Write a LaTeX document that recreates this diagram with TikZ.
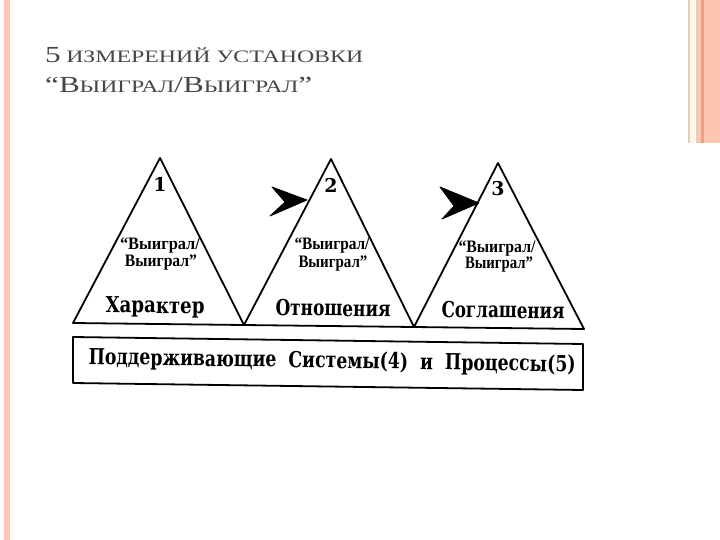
\documentclass[tikz,border=0pt]{standalone}
\usepackage{fontspec}
\setmainfont{Liberation Serif}
\newfontfamily\heavyfont{DejaVu Serif}
\usepackage{graphicx}
\definecolor{titlegray}{RGB}{70,70,70}
\definecolor{peach}{RGB}{252,198,176}
\definecolor{salmon}{RGB}{240,160,130}
\definecolor{tanline}{RGB}{228,204,188}
\definecolor{creamline}{RGB}{255,246,232}
\newcommand\wtext[2]{\resizebox{#1}{\height}{#2}}
\newcommand\fs[1]{\fontsize{#1}{#1}\selectfont}
\begin{document}
\begin{tikzpicture}[x=1pt,y=-1pt,
  outline/.style={draw=black,line width=1.8pt,line join=round},
  lbl/.style={inner sep=0pt,anchor=base,font=\heavyfont\bfseries},
  winlbl/.style={inner sep=0pt,anchor=base,font=\bfseries},
  ttl/.style={inner sep=0pt,anchor=base west,text=titlegray},
  arrowfill/.style={fill=black,draw=black,line width=0.8pt,line join=round}]
\useasboundingbox[fill=white] (0,0) rectangle (720,540);
% slide decoration
\fill[peach] (4,0) rectangle (9.5,540);
\draw[creamline,line width=1pt] (12,0) -- (12,540);
\fill[peach] (697,0) rectangle (720,143);
\fill[salmon] (701,0) rectangle (704,143);
\fill[creamline] (690,0) rectangle (695,143);
\draw[tanline,line width=1.5pt] (689,0) -- (689,143);
\draw[tanline,line width=1pt] (696,0) -- (696,143);
% title
\node[ttl] (t1) at (45,63) {\wtext{318pt}{{\fs{23}5}\hspace{4pt}{\fs{17.5}ИЗМЕРЕНИЙ УСТАНОВКИ}}};
\node[ttl] (t2) at (45,93) {\wtext{267pt}{{\fs{23}“В}{\fs{17.5}ЫИГРАЛ}{\fs{23}/В}{\fs{17.5}ЫИГРАЛ}{\fs{23}”}}};
% triangle corners
\coordinate (a1) at (160,158);
\coordinate (a2) at (331,159);
\coordinate (a3) at (498,163);
\coordinate (b0) at (73,323);
\coordinate (b1) at (244,325);
\coordinate (b2) at (414,327);
\coordinate (b3) at (584,329);
\draw[outline] (b0) -- (a1) -- (b1) -- (a2) -- (b2) -- (a3) -- (b3) -- cycle;
% arrowheads
\filldraw[arrowfill] (307,200) -- (272,187) -- (285,202) -- (270,216) -- cycle;
\filldraw[arrowfill] (479,203) -- (440,187) -- (454,206) -- (442,219) -- cycle;
% numbers
\node[lbl] (n1) at (160,192) {\fs{19}1};
\node[lbl] (n2) at (331,193) {\fs{19}2};
\node[lbl] (n3) at (498,196) {\fs{19}3};
% win/win texts
\node[winlbl] (w1a) at (160,249) {\wtext{80pt}{\fs{17.5}“Выиграл/}};
\node[winlbl] (w1b) at (161,266) {\wtext{72pt}{\fs{17.5}Выиграл”}};
\node[winlbl] (w2a) at (332,249) {\wtext{75pt}{\fs{17.5}“Выиграл/}};
\node[winlbl] (w2b) at (333,267) {\wtext{69pt}{\fs{17.5}Выиграл”}};
\node[winlbl] (w3a) at (497,252) {\wtext{77pt}{\fs{17.5}“Выиграл/}};
\node[winlbl] (w3b) at (499,269) {\wtext{68pt}{\fs{17.5}Выиграл”}};
% labels
\node[lbl,rotate=-0.6] (c1) at (155,313) {\wtext{99pt}{\fs{22}Характер}};
\node[lbl,rotate=-0.6] (c2) at (333,316) {\wtext{115pt}{\fs{22}Отношения}};
\node[lbl,rotate=-0.6] (c3) at (503,318) {\wtext{123pt}{\fs{22}Соглашения}};
% support box
\coordinate (q1) at (73,337);
\coordinate (q2) at (583,344);
\coordinate (q3) at (583,390);
\coordinate (q4) at (73,383);
\draw[outline] (q1) -- (q2) -- (q3) -- (q4) -- cycle;
\node[lbl,rotate=-0.9] (bt) at (332,368) {\wtext{487pt}{\fs{22}Поддерживающие\ \ Системы(4)\ \ и\ \ Процессы(5)}};
\end{tikzpicture}
\end{document}
